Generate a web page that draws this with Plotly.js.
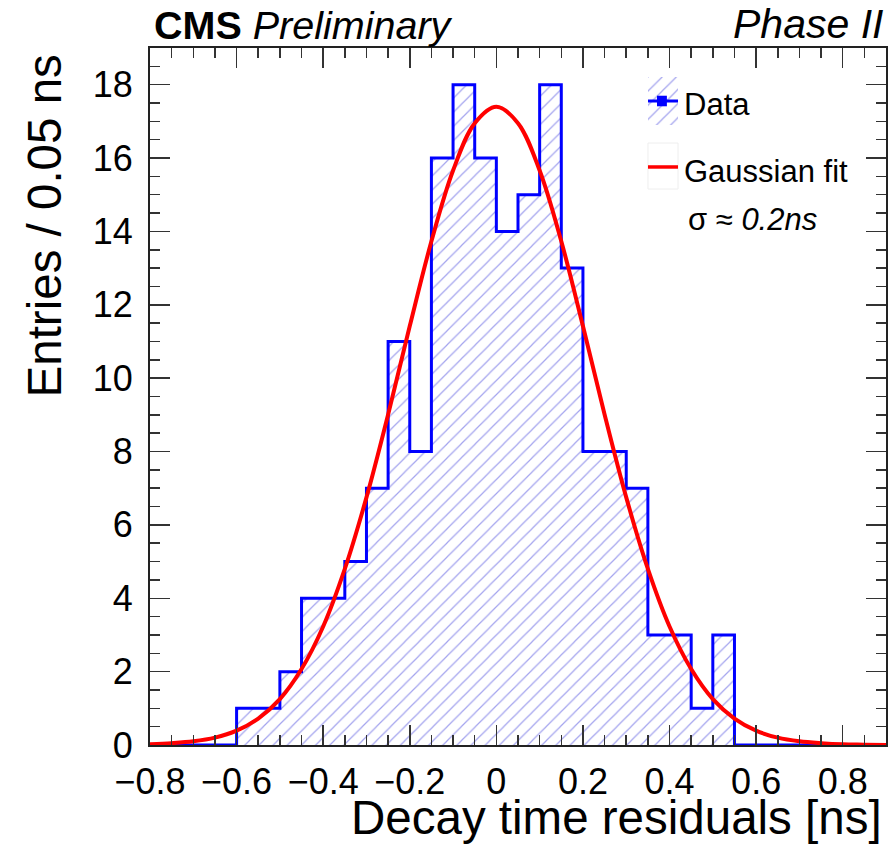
<!DOCTYPE html>
<html><head><meta charset="utf-8">
<script src="https://cdn.plot.ly/plotly-3.0.1.min.js"></script>
<style>html,body{margin:0;padding:0;background:#fff;} #chart{width:889px;height:846px;}</style>
</head><body><div id="chart"></div>
<script>
// Histogram binning and counts (bins of 0.05 ns from -0.8 to 0.9)
const binStart = -0.8;
const binWidth = 0.05;
const counts = [0, 0, 0, 0, 1, 1, 2, 4, 4, 5, 7, 11, 8, 16, 18, 16, 14, 15, 18, 13, 8, 8, 7, 3, 3, 1, 3, 0, 0, 0, 0, 0, 0, 0];

// Gaussian fit curve
const fitX = [-0.80, -0.75, -0.70, -0.65, -0.60, -0.55, -0.50, -0.45, -0.40, -0.35, -0.30, -0.25, -0.20, -0.15, -0.10, -0.05, 0.00,
              0.05, 0.10, 0.15, 0.20, 0.25, 0.30, 0.35, 0.40, 0.45, 0.50, 0.55, 0.60, 0.65, 0.70, 0.75, 0.80, 0.85, 0.90];
const fitY = [0.02, 0.05, 0.10, 0.20, 0.39, 0.72, 1.25, 2.07, 3.23, 4.80, 6.75, 9.01, 11.42, 13.73, 15.66, 16.95, 17.40,
              16.95, 15.66, 13.73, 11.42, 9.01, 6.75, 4.80, 3.23, 2.07, 1.25, 0.72, 0.39, 0.20, 0.10, 0.05, 0.02, 0.01, 0.00];

// Axis ticks
const xTickVals = [-0.8, -0.6, -0.4, -0.2, 0, 0.2, 0.4, 0.6, 0.8];
const xTickText = ['\u22120.8', '\u22120.6', '\u22120.4', '\u22120.2', '0', '0.2', '0.4', '0.6', '0.8'];
const yTickVals = [0, 2, 4, 6, 8, 10, 12, 14, 16, 18];

// Build step outline from the bins
const histX = [];
const histY = [];
for (let i = 0; i <= counts.length; i++) {
  histX.push(+(binStart + i * binWidth).toFixed(4));
  histY.push(i < counts.length ? counts[i] : counts[counts.length - 1]);
}

const FONT = '"Liberation Sans", Arial, Helvetica, sans-serif';
const hatch = {shape: '/', fgcolor: '#a3a3ee', bgcolor: 'rgba(255,255,255,0)', size: 10, solidity: 0.12};

const traces = [
  {
    x: histX, y: histY, type: 'scatter', mode: 'lines',
    line: {shape: 'hv', color: '#0000ff', width: 3},
    fill: 'tozeroy', fillcolor: 'rgba(0,0,0,0)', fillpattern: hatch,
    name: 'Data', showlegend: false, hoverinfo: 'skip'
  },
  {
    x: fitX, y: fitY, type: 'scatter', mode: 'lines',
    line: {shape: 'spline', smoothing: 1, color: '#ff0000', width: 4},
    name: 'Gaussian fit', showlegend: false, hoverinfo: 'skip'
  },
  // legend glyph: hatched box for Data
  {
    x: [0, 1, 1, 0, 0], y: [0, 0, 1, 1, 0], xaxis: 'x2', yaxis: 'y2',
    type: 'scatter', mode: 'lines', line: {width: 0},
    fill: 'toself', fillcolor: 'rgba(0,0,0,0)', fillpattern: hatch,
    showlegend: false, hoverinfo: 'skip'
  }
];

const axisCommon = {
  showline: true, mirror: 'allticks', linecolor: '#222', linewidth: 2,
  ticks: 'inside', ticklen: 20, tickwidth: 1.5, tickcolor: '#333',
  showgrid: false, zeroline: false,
  tickfont: {family: FONT, size: 36, color: '#000'}
};

const layout = {
  width: 889, height: 846,
  margin: {l: 150, r: 3, t: 48, b: 101},
  paper_bgcolor: '#fff', plot_bgcolor: '#fff',
  showlegend: false,
  xaxis: Object.assign({}, axisCommon, {
    range: [-0.8, 0.9], tickvals: xTickVals, ticktext: xTickText,
    ticklabelstandoff: 4,
    minor: {dtick: 0.05, tick0: 0, ticks: 'inside', ticklen: 10, tickwidth: 1.5, tickcolor: '#333', showgrid: false}
  }),
  yaxis: Object.assign({}, axisCommon, {
    range: [0, 19], tickvals: yTickVals,
    ticklabelstandoff: 8,
    minor: {dtick: 0.5, tick0: 0, ticks: 'inside', ticklen: 10, tickwidth: 1.5, tickcolor: '#333', showgrid: false}
  }),
  xaxis2: {domain: [0.6766, 0.7174], anchor: 'y2', range: [0, 1], visible: false, fixedrange: true},
  yaxis2: {domain: [0.8895, 0.9584], anchor: 'x2', range: [0, 1], visible: false, fixedrange: true},
  shapes: [
    {type: 'line', xref: 'x2', yref: 'y2', x0: 0, x1: 1, y0: 0.5, y1: 0.5, line: {color: '#0000ff', width: 3}},
    {type: 'rect', xref: 'x2', yref: 'y2', x0: 0.3, x1: 0.63, y0: 0.39, y1: 0.61, fillcolor: '#0000ff', line: {width: 0}},
    {type: 'rect', xref: 'paper', yref: 'paper', x0: 0.6766, x1: 0.7174, y0: 0.7977, y1: 0.8637, line: {color: '#eeeeee', width: 1}},
    {type: 'line', xref: 'paper', yref: 'paper', x0: 0.6766, x1: 0.7174, y0: 0.8293, y1: 0.8293, line: {color: '#ff0000', width: 3.5}}
  ],
  annotations: [
    {text: '<b>CMS</b> <i>Preliminary</i>', xref: 'paper', yref: 'paper', x: 0.0027, y: 0.998,
     xanchor: 'left', yanchor: 'bottom', showarrow: false, font: {family: FONT, size: 39.5, color: '#000'}},
    {text: '<i>Phase II</i>', xref: 'paper', yref: 'paper', x: 0.999, y: 0.998,
     xanchor: 'right', yanchor: 'bottom', showarrow: false, font: {family: FONT, size: 41, color: '#000'}},
    {text: 'Entries / 0.05 ns', xref: 'paper', yref: 'paper', x: -0.1427, y: 0.9943,
     xanchor: 'center', yanchor: 'top', textangle: -90, showarrow: false, font: {family: FONT, size: 47.5, color: '#000'}},
    {text: 'Decay time residuals [ns]', xref: 'paper', yref: 'paper', x: 0.9973, y: -0.104,
     xanchor: 'right', yanchor: 'middle', showarrow: false, font: {family: FONT, size: 47.5, color: '#000'}},
    {text: 'Data', xref: 'paper', yref: 'paper', x: 0.7228, y: 0.9195,
     xanchor: 'left', yanchor: 'middle', showarrow: false, font: {family: FONT, size: 31, color: '#000'}},
    {text: 'Gaussian fit', xref: 'paper', yref: 'paper', x: 0.7228, y: 0.8235,
     xanchor: 'left', yanchor: 'middle', showarrow: false, font: {family: FONT, size: 31, color: '#000'}},
    {text: '\u03c3 \u2248 <i>0.2ns</i>', xref: 'paper', yref: 'paper', x: 0.7283, y: 0.7535,
     xanchor: 'left', yanchor: 'middle', showarrow: false, font: {family: FONT, size: 31, color: '#000'}}
  ]
};

Plotly.newPlot('chart', traces, layout, {staticPlot: true, displayModeBar: false});
</script>
</body></html>
